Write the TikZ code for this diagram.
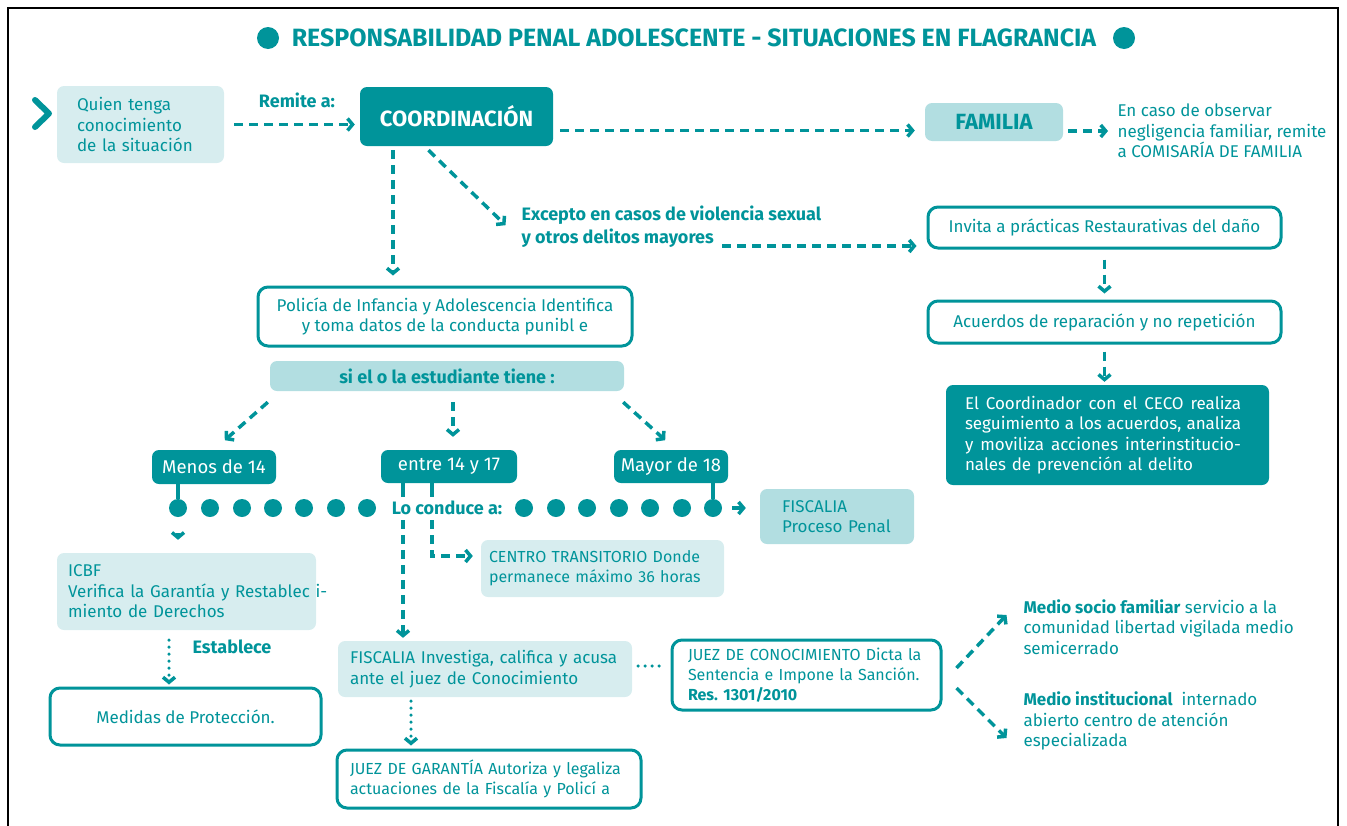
\documentclass[tikz,border=0pt]{standalone}
\usepackage{fontspec}
\setmainfont{Fira Sans}
\usetikzlibrary{arrows.meta}
\definecolor{tealD}{RGB}{0,148,154}
\definecolor{tealM}{RGB}{178,222,225}
\definecolor{tealL}{RGB}{215,237,239}
\newcommand{\bodyfont}{\fontsize{17}{20.5}\selectfont}
\newcommand{\capsfont}{\fontsize{16}{20}\selectfont}
\newcommand{\labfont}{\fontsize{18}{23}\selectfont\bfseries}
\newcommand{\fullline}[1]{\leavevmode\hbox to 276pt{\spaceskip=0.25em plus 1fil\relax #1}}

\begin{document}
\begin{tikzpicture}[x=1pt, y=-1pt,
  every node/.style={font=\bodyfont, text=tealD},
  softbox/.style={fill=tealL, rounded corners=7, inner ysep=0},
  palebox/.style={fill=tealM, rounded corners=7, inner sep=0},
  darkbox/.style={fill=tealD, text=white, rounded corners=7, inner sep=0},
  linebox/.style={draw=tealD, line width=3, fill=white, rounded corners=10, inner ysep=0},
  flow/.style={draw=tealD, line width=3.5, dash pattern=on 9pt off 6pt,
    -{Straight Barb[length=5pt, width=12pt]}},
  dotflow/.style={draw=tealD, line width=3.5, line cap=round, dash pattern=on 0pt off 7pt,
    -{Straight Barb[length=5pt, width=12pt]}},
  dotline/.style={draw=tealD, line width=3.5, line cap=round, dash pattern=on 0pt off 7pt},
  link/.style={draw=tealD, line width=3.5},
  bead/.style={circle, fill=tealD, minimum size=18pt, inner sep=0}]
\useasboundingbox (0,0) rectangle (1347,825);
\draw[line width=2] (8,830) -- (8,8) -- (1338,8) -- (1338,830);

% title
\node[font=\fontsize{25}{28}\selectfont\bfseries] (title) at (694,38) {RESPONSABILIDAD PENAL ADOLESCENTE - SITUACIONES EN FLAGRANCIA};
\fill[tealD] (268,38) circle (11pt);
\fill[tealD] (1124,38) circle (11pt);

% top row
\draw[tealD, line width=6, line cap=round, line join=round] (35,100) -- (49,113.5) -- (35,127);
\node[softbox, minimum width=167, minimum height=77, text width=127, inner xsep=20, align=left] (quien) at (140.5,124.5) {Quien tenga\\conocimiento\\de la situación};
\node[font=\labfont] (remite) at (297,100) {Remite a:};
\node[darkbox, minimum width=193, minimum height=59, font=\fontsize{22}{26}\selectfont\bfseries] (coord) at (456.5,116.5) {COORDINACIÓN};
\node[palebox, minimum width=138, minimum height=38, font=\fontsize{22}{26}\selectfont\bfseries] (familia) at (994,122) {FAMILIA};
\node[anchor=west, align=left] (famnote) at (1114,131) {En caso de observar\\negligencia familiar, remite\\a COMISARÍA DE FAMILIA};
\draw[flow, shorten <=10, shorten >=5] (quien.east) -- (quien.east -| coord.west);
\draw[flow, shorten <=7, shorten >=10] ([yshift=-14]coord.east) -- ([yshift=-14]coord.east -| familia.west);
\draw[flow, shorten <=5, shorten >=6] ([yshift=-9]familia.east) -- ([yshift=-9]familia.east -| famnote.west);

% coordination branches
\node[anchor=west, align=left, font=\labfont] (excepto) at (518,226.5) {Excepto en casos de violencia sexual\\y otros delitos mayores};
\node[linebox, minimum width=374, minimum height=59, align=center] (policia) at (445,316.5) {Policía de Infancia y Adolescencia Identifica\\y toma datos de la conducta punibl e};
\draw[flow, shorten <=4, shorten >=10] ([xshift=-63.5]coord.south) -- ([xshift=-63.5]coord.south |- policia.north);
\draw[flow] ([xshift=-28, yshift=-4]coord.south) -- ++(77,75);
\coordinate (exc-end) at (722,246);

% restorative column
\node[linebox, minimum width=353, minimum height=41] (invita) at (1104.5,227.5) {Invita a prácticas Restaurativas del daño};
\node[linebox, minimum width=353, minimum height=42] (acuerdos) at (1104.5,322) {Acuerdos de reparación y no repetición};
\node[darkbox, minimum width=323, minimum height=100, text width=285, inner xsep=19, align=left] (ceco) at (1107.5,435) {\fullline{El Coordinador con el CECO realiza}\\\fullline{seguimiento a los acuerdos, analiza}\\\fullline{y moviliza acciones interinstitucio-}\\nales de prevención al delito};
\draw[flow, shorten >=10] (exc-end) -- (exc-end -| invita.west);
\draw[flow, shorten <=10, shorten >=6] (invita) -- (acuerdos);
\draw[flow, shorten <=7, shorten >=3] (acuerdos.south) -- (acuerdos.south |- ceco.north);

% ages
\node[palebox, minimum width=354, minimum height=30, font=\fontsize{18}{20}\selectfont\bfseries] (estud) at (447,376) {si el o la estudiante tiene :};
\node[darkbox, minimum width=124, minimum height=34, font=\fontsize{18.5}{22}\selectfont] (menos) at (214,467) {Menos de 14};
\node[darkbox, minimum width=136, minimum height=33, font=\fontsize{18.5}{22}\selectfont] (entre) at (449,466.5) {entre 14 y 17};
\node[darkbox, minimum width=114, minimum height=33, font=\fontsize{18.5}{22}\selectfont] (mayor) at (671,466.5) {Mayor de 18};
\draw[flow] ([xshift=-2, yshift=-11]estud.south west) -- ++(-43,38);
\draw[flow, shorten <=11, shorten >=13] ([xshift=6]estud.south) -- ([xshift=6]estud.south |- entre.north);
\draw[flow] ([xshift=-1, yshift=-11]estud.south east) -- ++(42,38);

% bead row
\foreach \x [count=\i] in {178,210,242,273,304,336,367,524,556,587,619,650,682,713}
  \node[bead] (d\i) at (\x,508) {};
\node[font=\labfont] (conduce) at (447,508) {Lo conduce a:};
\node[palebox, minimum width=154, minimum height=55, text width=110, inner xsep=22, align=left] (fiscpen) at (837,516.5) {FISCALIA\\Proceso Penal};
\draw[link] (menos.south -| d1) -- (d1);
\draw[link] (mayor.south -| d14) -- (d14);
\draw[link] ([xshift=-46]entre.south) -- ++(0,14);
\draw[link] ([xshift=-17]entre.south) -- ++(0,14);
\draw[flow, shorten <=10, shorten >=14] (d14) -- (d14 -| fiscpen.west);

% under 14
\node[softbox, minimum width=259, minimum height=77, text width=237, inner xsep=11, align=left] (icbf) at (186.5,591.5) {ICBF\\\mbox{Verifica la Garantía y Restablec i-}\\miento de Derechos};
\node[font=\labfont] (establece) at (232,647) {Establece};
\node[linebox, minimum width=271, minimum height=57] (medidas) at (185.5,716.5) {Medidas de Protección.};
\draw[flow, shorten <=16, shorten >=13] (d1) -- (d1 |- icbf.north);
\draw[dotflow, shorten <=10, shorten >=2] ([xshift=-17.5]icbf.south) -- ([xshift=-17.5]icbf.south |- medidas.north);

% 14 to 17
\node[softbox, minimum width=243, minimum height=57, text width=227, inner xsep=8, align=left, font=\capsfont] (centro) at (602.5,568.5) {CENTRO TRANSITORIO Donde\\permanece máximo 36 horas};
\node[softbox, minimum width=294, minimum height=56, text width=270, inner xsep=12, align=left] (fiscinv) at (485,669) {FISCALIA Investiga, califica y acusa\\ante el juez de Conocimiento};
\node[linebox, minimum width=304, minimum height=58, text width=278, inner xsep=13, align=left, font=\capsfont] (juezgar) at (489,779) {JUEZ DE GARANTÍA Autoriza y legaliza\\actuaciones de la Fiscalía y Policí a};
\node[linebox, minimum width=269, minimum height=70, text width=237, inner xsep=16, align=left, font=\capsfont] (juezcon) at (806.5,675) {JUEZ DE CONOCIMIENTO Dicta la\\Sentencia e Impone la Sanción.\\\textbf{Res.\ 1301/2010}};
\draw[flow, shorten >=3] ([xshift=-46, yshift=-37]entre.south) -- ([xshift=-46]entre.south |- fiscinv.north);
\draw[flow, shorten >=8] ([xshift=-17, yshift=-37]entre.south) |- ([yshift=12.5]centro.west);
\draw[dotline, shorten <=6, shorten >=5] ([yshift=3]fiscinv.east) -- ([yshift=3]fiscinv.east -| juezcon.west);
\draw[dotflow, shorten <=4, shorten >=3] ([xshift=-74]fiscinv.south) -- ([xshift=-74]fiscinv.south |- juezgar.north);

% sanctions
\node[anchor=west, align=left] (socio) at (1020,627) {\textbf{Medio socio familiar} servicio a la\\comunidad libertad vigilada medio\\semicerrado};
\node[anchor=west, align=left] (instit) at (1020,721) {\textbf{Medio institucional}\ \ internado\\abierto centro de atención\\especializada};
\draw[flow] ([xshift=14, yshift=7]juezcon.east) -- ++(50,-53);
\draw[flow] ([xshift=14, yshift=-13]juezcon.east) -- ++(50,50);
\end{tikzpicture}
\end{document}
